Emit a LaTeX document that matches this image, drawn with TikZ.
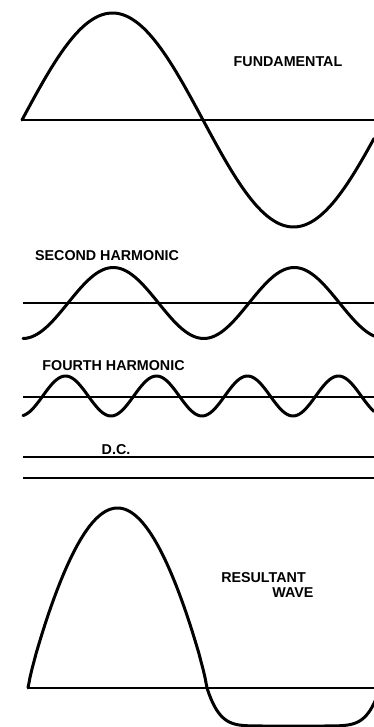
\documentclass[tikz,border=0pt]{standalone}
\usepackage{fontspec}
\setmainfont{Liberation Sans}

\begin{document}
\begin{tikzpicture}[x=1pt,y=-1pt,
  wave/.style={line width=3pt,line join=round,line cap=round},
  axis/.style={line width=1.4pt},
  dcline/.style={line width=2pt},
  lbl/.style={font=\fontsize{14.3}{16}\selectfont\bfseries,inner sep=0pt}]
  \useasboundingbox (0,0) rectangle (374,727);
  % fundamental
  \draw[axis] (22,120) -- (374,120);
  \draw[wave] plot[domain=22:374,samples=120] (\x,{120-107*sin((\x-22)/362*360)});
  \node[lbl] (fund) at (288,62) {FUNDAMENTAL};
  % second harmonic
  \node[lbl] (second) at (107,256) {SECOND HARMONIC};
  \draw[axis] (23,303) -- (374,303);
  \draw[wave] plot[domain=23:374,samples=120] (\x,{303-35.5*sin((\x-68)/181*360)});
  % fourth harmonic
  \node[lbl] (fourth) at (113.5,366) {FOURTH HARMONIC};
  \draw[axis] (23,397) -- (374,397);
  \draw[wave] plot[domain=23:374,samples=160] (\x,{396+20*cos((\x-20)/91*360)});
  % d.c.
  \node[lbl] (dc) at (116,449.5) {D.C.};
  \draw[dcline] (23,457) -- (374,457);
  \draw[dcline] (23,478) -- (374,478);
  % resultant
  \node[lbl] (res) at (263.5,577.5) {RESULTANT};
  \node[lbl] (resw) at (293,593) {WAVE};
  \draw[axis] (28,688) -- (374,688);
  \draw[wave] plot[domain=28:207,samples=90] (\x,{688-180*max(sin((\x-28)/179*180),0.0001)^0.85})
    -- plot[domain=207:378,samples=90] (\x,{688+38*(1-max(1-sin((\x-207)/173*180),0.0001)^4.5)});
\end{tikzpicture}
\end{document}
